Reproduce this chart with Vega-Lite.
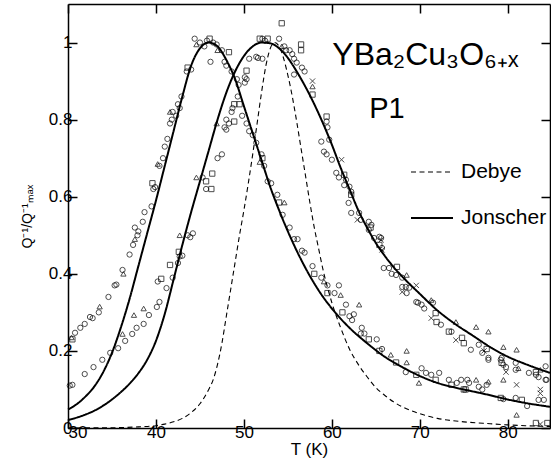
{
  "$schema": "https://vega.github.io/schema/vega-lite/v6.json",
  "autosize": {"type": "none"},
  "width": 482,
  "height": 424,
  "padding": {"left": 68, "top": 4, "right": 1, "bottom": 38},
  "background": "white",
  "config": {
    "view": {"stroke": null},
    "font": "Liberation Sans",
    "axis": {
      "domainColor": "black", "domainWidth": 1.5, "tickColor": "black", "tickWidth": 1.5,
      "tickSize": -9, "labelPadding": 5, "labelFont": "Liberation Sans", "labelFontSize": 17,
      "labelColor": "black", "titleFont": "Liberation Sans", "titleFontWeight": "normal",
      "titleColor": "black", "grid": false
    },
    "legend": {
      "orient": "none", "legendX": 342, "legendY": 146, "title": null, "symbolType": "stroke",
      "symbolSize": 1764, "symbolStrokeColor": "black", "labelFont": "Liberation Sans",
      "labelFontSize": 21, "labelColor": "black", "labelOffset": 7, "rowPadding": 14, "padding": 0
    }
  },
  "datasets": {
    "curves": [
      {"c":"A","model":"Jonscher","T":30,"Q":0.048},{"c":"A","model":"Jonscher","T":31,"Q":0.062},{"c":"A","model":"Jonscher","T":32,"Q":0.082},{"c":"A","model":"Jonscher","T":33,"Q":0.108},{"c":"A","model":"Jonscher","T":34,"Q":0.145},{"c":"A","model":"Jonscher","T":35,"Q":0.195},{"c":"A","model":"Jonscher","T":36,"Q":0.26},{"c":"A","model":"Jonscher","T":37,"Q":0.335},{"c":"A","model":"Jonscher","T":38,"Q":0.42},{"c":"A","model":"Jonscher","T":39,"Q":0.505},{"c":"A","model":"Jonscher","T":40,"Q":0.59},{"c":"A","model":"Jonscher","T":41,"Q":0.68},{"c":"A","model":"Jonscher","T":42,"Q":0.77},{"c":"A","model":"Jonscher","T":43,"Q":0.86},{"c":"A","model":"Jonscher","T":44,"Q":0.94},{"c":"A","model":"Jonscher","T":45,"Q":0.985},{"c":"A","model":"Jonscher","T":46,"Q":1.0},{"c":"A","model":"Jonscher","T":47,"Q":0.99},{"c":"A","model":"Jonscher","T":48,"Q":0.955},{"c":"A","model":"Jonscher","T":49,"Q":0.905},{"c":"A","model":"Jonscher","T":50,"Q":0.835},{"c":"A","model":"Jonscher","T":51,"Q":0.765},{"c":"A","model":"Jonscher","T":52,"Q":0.695},{"c":"A","model":"Jonscher","T":53,"Q":0.625},{"c":"A","model":"Jonscher","T":54,"Q":0.565},{"c":"A","model":"Jonscher","T":55,"Q":0.51},{"c":"A","model":"Jonscher","T":56,"Q":0.46},{"c":"A","model":"Jonscher","T":57,"Q":0.415},{"c":"A","model":"Jonscher","T":58,"Q":0.375},{"c":"A","model":"Jonscher","T":59,"Q":0.34},{"c":"A","model":"Jonscher","T":60,"Q":0.31},{"c":"A","model":"Jonscher","T":62,"Q":0.26},{"c":"A","model":"Jonscher","T":64,"Q":0.22},{"c":"A","model":"Jonscher","T":66,"Q":0.185},{"c":"A","model":"Jonscher","T":68,"Q":0.158},{"c":"A","model":"Jonscher","T":70,"Q":0.135},{"c":"A","model":"Jonscher","T":72,"Q":0.117},{"c":"A","model":"Jonscher","T":74,"Q":0.105},{"c":"A","model":"Jonscher","T":76,"Q":0.095},{"c":"A","model":"Jonscher","T":78,"Q":0.085},{"c":"A","model":"Jonscher","T":80,"Q":0.074},{"c":"A","model":"Jonscher","T":82,"Q":0.065},{"c":"A","model":"Jonscher","T":84.8,"Q":0.055},
      {"c":"B","model":"Jonscher","T":30,"Q":0.021},{"c":"B","model":"Jonscher","T":31,"Q":0.027},{"c":"B","model":"Jonscher","T":32,"Q":0.035},{"c":"B","model":"Jonscher","T":33,"Q":0.045},{"c":"B","model":"Jonscher","T":34,"Q":0.058},{"c":"B","model":"Jonscher","T":35,"Q":0.074},{"c":"B","model":"Jonscher","T":36,"Q":0.093},{"c":"B","model":"Jonscher","T":37,"Q":0.115},{"c":"B","model":"Jonscher","T":38,"Q":0.142},{"c":"B","model":"Jonscher","T":39,"Q":0.177},{"c":"B","model":"Jonscher","T":40,"Q":0.226},{"c":"B","model":"Jonscher","T":41,"Q":0.296},{"c":"B","model":"Jonscher","T":42,"Q":0.385},{"c":"B","model":"Jonscher","T":43,"Q":0.475},{"c":"B","model":"Jonscher","T":44,"Q":0.56},{"c":"B","model":"Jonscher","T":45,"Q":0.64},{"c":"B","model":"Jonscher","T":46,"Q":0.72},{"c":"B","model":"Jonscher","T":47,"Q":0.8},{"c":"B","model":"Jonscher","T":48,"Q":0.87},{"c":"B","model":"Jonscher","T":49,"Q":0.925},{"c":"B","model":"Jonscher","T":50,"Q":0.965},{"c":"B","model":"Jonscher","T":51,"Q":0.99},{"c":"B","model":"Jonscher","T":52,"Q":1.0},{"c":"B","model":"Jonscher","T":53,"Q":0.998},{"c":"B","model":"Jonscher","T":54,"Q":0.985},{"c":"B","model":"Jonscher","T":55,"Q":0.96},{"c":"B","model":"Jonscher","T":56,"Q":0.925},{"c":"B","model":"Jonscher","T":57,"Q":0.885},{"c":"B","model":"Jonscher","T":58,"Q":0.84},{"c":"B","model":"Jonscher","T":59,"Q":0.79},{"c":"B","model":"Jonscher","T":60,"Q":0.735},{"c":"B","model":"Jonscher","T":61,"Q":0.675},{"c":"B","model":"Jonscher","T":62,"Q":0.62},{"c":"B","model":"Jonscher","T":63,"Q":0.565},{"c":"B","model":"Jonscher","T":64,"Q":0.52},{"c":"B","model":"Jonscher","T":65,"Q":0.48},{"c":"B","model":"Jonscher","T":66,"Q":0.447},{"c":"B","model":"Jonscher","T":67,"Q":0.418},{"c":"B","model":"Jonscher","T":68,"Q":0.393},{"c":"B","model":"Jonscher","T":70,"Q":0.348},{"c":"B","model":"Jonscher","T":72,"Q":0.305},{"c":"B","model":"Jonscher","T":74,"Q":0.27},{"c":"B","model":"Jonscher","T":76,"Q":0.24},{"c":"B","model":"Jonscher","T":78,"Q":0.21},{"c":"B","model":"Jonscher","T":80,"Q":0.185},{"c":"B","model":"Jonscher","T":82,"Q":0.166},{"c":"B","model":"Jonscher","T":84.8,"Q":0.143},
      {"c":"D","model":"Debye","T":30,"Q":0},{"c":"D","model":"Debye","T":33,"Q":0.0005},{"c":"D","model":"Debye","T":36,"Q":0.001},{"c":"D","model":"Debye","T":38,"Q":0.003},{"c":"D","model":"Debye","T":40,"Q":0.006},{"c":"D","model":"Debye","T":41,"Q":0.01},{"c":"D","model":"Debye","T":42,"Q":0.016},{"c":"D","model":"Debye","T":43,"Q":0.025},{"c":"D","model":"Debye","T":44,"Q":0.04},{"c":"D","model":"Debye","T":45,"Q":0.063},{"c":"D","model":"Debye","T":46,"Q":0.1},{"c":"D","model":"Debye","T":46.5,"Q":0.125},{"c":"D","model":"Debye","T":47,"Q":0.165},{"c":"D","model":"Debye","T":47.5,"Q":0.22},{"c":"D","model":"Debye","T":48,"Q":0.29},{"c":"D","model":"Debye","T":48.5,"Q":0.36},{"c":"D","model":"Debye","T":49,"Q":0.43},{"c":"D","model":"Debye","T":49.5,"Q":0.5},{"c":"D","model":"Debye","T":50,"Q":0.565},{"c":"D","model":"Debye","T":50.5,"Q":0.635},{"c":"D","model":"Debye","T":51,"Q":0.71},{"c":"D","model":"Debye","T":51.5,"Q":0.79},{"c":"D","model":"Debye","T":52,"Q":0.87},{"c":"D","model":"Debye","T":52.5,"Q":0.94},{"c":"D","model":"Debye","T":53,"Q":0.985},{"c":"D","model":"Debye","T":53.5,"Q":1.0},{"c":"D","model":"Debye","T":54,"Q":0.99},{"c":"D","model":"Debye","T":54.5,"Q":0.96},{"c":"D","model":"Debye","T":55,"Q":0.915},{"c":"D","model":"Debye","T":55.5,"Q":0.86},{"c":"D","model":"Debye","T":56,"Q":0.795},{"c":"D","model":"Debye","T":56.5,"Q":0.725},{"c":"D","model":"Debye","T":57,"Q":0.655},{"c":"D","model":"Debye","T":57.5,"Q":0.585},{"c":"D","model":"Debye","T":58,"Q":0.52},{"c":"D","model":"Debye","T":58.5,"Q":0.465},{"c":"D","model":"Debye","T":59,"Q":0.41},{"c":"D","model":"Debye","T":59.5,"Q":0.365},{"c":"D","model":"Debye","T":60,"Q":0.325},{"c":"D","model":"Debye","T":61,"Q":0.26},{"c":"D","model":"Debye","T":62,"Q":0.205},{"c":"D","model":"Debye","T":63,"Q":0.165},{"c":"D","model":"Debye","T":64,"Q":0.133},{"c":"D","model":"Debye","T":65,"Q":0.105},{"c":"D","model":"Debye","T":66,"Q":0.085},{"c":"D","model":"Debye","T":67,"Q":0.068},{"c":"D","model":"Debye","T":68,"Q":0.055},{"c":"D","model":"Debye","T":70,"Q":0.037},{"c":"D","model":"Debye","T":72,"Q":0.025},{"c":"D","model":"Debye","T":75,"Q":0.016},{"c":"D","model":"Debye","T":78,"Q":0.011},{"c":"D","model":"Debye","T":80,"Q":0.008},{"c":"D","model":"Debye","T":82,"Q":0.006},{"c":"D","model":"Debye","T":84.8,"Q":0.004}
    ],
    "points": [
      {"T":30.4,"Q":0.235,"m":"t"},{"T":30.5,"Q":0.23,"m":"s"},{"T":30.8,"Q":0.247,"m":"o"},{"T":31.4,"Q":0.26,"m":"o"},{"T":31.9,"Q":0.27,"m":"o"},{"T":32.5,"Q":0.288,"m":"o"},{"T":32.8,"Q":0.285,"m":"o"},{"T":33.5,"Q":0.3,"m":"o"},{"T":33.6,"Q":0.315,"m":"t"},{"T":34.6,"Q":0.34,"m":"o"},{"T":35.3,"Q":0.37,"m":"o"},{"T":35.5,"Q":0.372,"m":"o"},{"T":36.2,"Q":0.41,"m":"o"},{"T":36.3,"Q":0.4,"m":"t"},{"T":37.0,"Q":0.45,"m":"o"},{"T":37.4,"Q":0.475,"m":"o"},{"T":37.6,"Q":0.49,"m":"t"},{"T":37.9,"Q":0.5,"m":"o"},{"T":37.6,"Q":0.52,"m":"o"},{"T":38.0,"Q":0.51,"m":"o"},{"T":38.5,"Q":0.535,"m":"o"},{"T":38.7,"Q":0.56,"m":"o"},{"T":39.5,"Q":0.575,"m":"o"},{"T":39.7,"Q":0.62,"m":"o"},{"T":39.6,"Q":0.635,"m":"s"},{"T":39.9,"Q":0.625,"m":"o"},{"T":40.4,"Q":0.68,"m":"o"},{"T":40.2,"Q":0.685,"m":"t"},{"T":40.8,"Q":0.7,"m":"o"},{"T":41.0,"Q":0.73,"m":"o"},{"T":41.3,"Q":0.75,"m":"o"},{"T":41.6,"Q":0.79,"m":"o"},{"T":41.8,"Q":0.8,"m":"o"},{"T":41.6,"Q":0.82,"m":"t"},{"T":41.9,"Q":0.82,"m":"o"},{"T":42.3,"Q":0.81,"m":"o"},{"T":42.5,"Q":0.84,"m":"o"},{"T":42.7,"Q":0.83,"m":"o"},{"T":42.9,"Q":0.86,"m":"o"},{"T":43.5,"Q":0.925,"m":"o"},{"T":43.6,"Q":0.935,"m":"s"},{"T":44.0,"Q":0.93,"m":"o"},{"T":44.4,"Q":1.01,"m":"o"},{"T":44.6,"Q":0.995,"m":"t"},{"T":45.0,"Q":1.0,"m":"o"},{"T":45.5,"Q":0.99,"m":"o"},{"T":45.8,"Q":1.005,"m":"o"},{"T":46.1,"Q":1.01,"m":"s"},{"T":46.5,"Q":1.0,"m":"o"},{"T":46.9,"Q":0.995,"m":"o"},{"T":47.0,"Q":0.98,"m":"t"},{"T":47.5,"Q":0.98,"m":"o"},{"T":48.3,"Q":0.975,"m":"s"},{"T":46.2,"Q":0.95,"m":"o"},{"T":47.8,"Q":0.95,"m":"o"},{"T":48.0,"Q":0.94,"m":"o"},{"T":48.6,"Q":0.925,"m":"o"},{"T":49.2,"Q":0.905,"m":"o"},{"T":49.4,"Q":0.89,"m":"o"},{"T":48.7,"Q":0.83,"m":"o"},{"T":49.5,"Q":0.84,"m":"s"},{"T":49.8,"Q":0.81,"m":"o"},{"T":50.3,"Q":0.79,"m":"o"},{"T":50.6,"Q":0.77,"m":"o"},{"T":51.0,"Q":0.76,"m":"o"},{"T":51.4,"Q":0.74,"m":"o"},{"T":51.8,"Q":0.69,"m":"t"},{"T":52.0,"Q":0.71,"m":"o"},{"T":52.1,"Q":0.7,"m":"s"},{"T":52.3,"Q":0.68,"m":"o"},{"T":52.7,"Q":0.64,"m":"o"},{"T":53.1,"Q":0.635,"m":"o"},{"T":53.8,"Q":0.605,"m":"o"},{"T":54.0,"Q":0.585,"m":"s"},{"T":54.6,"Q":0.585,"m":"t"},{"T":54.4,"Q":0.553,"m":"o"},{"T":55.2,"Q":0.52,"m":"o"},{"T":55.7,"Q":0.49,"m":"o"},{"T":56.1,"Q":0.49,"m":"o"},{"T":56.6,"Q":0.46,"m":"o"},{"T":56.9,"Q":0.455,"m":"o"},{"T":57.8,"Q":0.42,"m":"o"},{"T":58.0,"Q":0.4,"m":"s"},{"T":58.8,"Q":0.39,"m":"o"},{"T":59.1,"Q":0.38,"m":"t"},{"T":59.5,"Q":0.37,"m":"o"},{"T":59.5,"Q":0.35,"m":"s"},{"T":60.3,"Q":0.35,"m":"o"},{"T":60.8,"Q":0.37,"m":"o"},{"T":61.0,"Q":0.345,"m":"t"},{"T":61.6,"Q":0.32,"m":"o"},{"T":63.1,"Q":0.32,"m":"t"},{"T":61.2,"Q":0.3,"m":"s"},{"T":62.0,"Q":0.29,"m":"o"},{"T":62.3,"Q":0.28,"m":"o"},{"T":62.5,"Q":0.295,"m":"o"},{"T":63.4,"Q":0.26,"m":"o"},{"T":63.7,"Q":0.245,"m":"o"},{"T":63.3,"Q":0.245,"m":"o"},{"T":64.2,"Q":0.23,"m":"s"},{"T":65.1,"Q":0.23,"m":"o"},{"T":65.4,"Q":0.2,"m":"s"},{"T":65.7,"Q":0.205,"m":"o"},{"T":66.7,"Q":0.19,"m":"t"},{"T":67.3,"Q":0.17,"m":"s"},{"T":68.5,"Q":0.2,"m":"t"},{"T":68.5,"Q":0.17,"m":"t"},{"T":68.4,"Q":0.145,"m":"o"},{"T":69.6,"Q":0.138,"m":"s"},{"T":70.2,"Q":0.155,"m":"o"},{"T":70.7,"Q":0.143,"m":"o"},{"T":71.3,"Q":0.138,"m":"o"},{"T":71.8,"Q":0.125,"m":"s"},{"T":69.9,"Q":0.117,"m":"t"},{"T":72.2,"Q":0.143,"m":"o"},{"T":73.3,"Q":0.125,"m":"o"},{"T":73.6,"Q":0.112,"m":"s"},{"T":74.2,"Q":0.117,"m":"o"},{"T":74.7,"Q":0.125,"m":"o"},{"T":75.4,"Q":0.125,"m":"o"},{"T":75.2,"Q":0.1,"m":"s"},{"T":75.6,"Q":0.117,"m":"o"},{"T":76.4,"Q":0.125,"m":"t"},{"T":76.7,"Q":0.107,"m":"o"},{"T":77.1,"Q":0.1,"m":"o"},{"T":77.6,"Q":0.112,"m":"o"},{"T":77.8,"Q":0.12,"m":"t"},{"T":79.5,"Q":0.125,"m":"t"},{"T":81.0,"Q":0.112,"m":"x"},{"T":79.2,"Q":0.078,"m":"s"},{"T":79.5,"Q":0.075,"m":"o"},{"T":80.9,"Q":0.078,"m":"o"},{"T":81.6,"Q":0.073,"m":"s"},{"T":82.2,"Q":0.057,"m":"o"},{"T":81.0,"Q":0.034,"m":"t"},{"T":83.2,"Q":0.013,"m":"s"},{"T":83.7,"Q":0.01,"m":"x"},{"T":83.5,"Q":0.073,"m":"o"},{"T":84.1,"Q":0.073,"m":"o"},{"T":83.7,"Q":0.1,"m":"x"},{"T":84.5,"Q":0.013,"m":"s"},{"T":75.0,"Q":0.1,"m":"s"},
      {"T":30.2,"Q":0.11,"m":"o"},{"T":30.5,"Q":0.112,"m":"o"},{"T":31.9,"Q":0.14,"m":"o"},{"T":32.9,"Q":0.158,"m":"o"},{"T":33.9,"Q":0.177,"m":"o"},{"T":34.8,"Q":0.195,"m":"o"},{"T":35.7,"Q":0.207,"m":"o"},{"T":36.2,"Q":0.244,"m":"t"},{"T":36.5,"Q":0.226,"m":"o"},{"T":37.3,"Q":0.244,"m":"o"},{"T":37.8,"Q":0.26,"m":"o"},{"T":37.5,"Q":0.293,"m":"t"},{"T":38.6,"Q":0.27,"m":"o"},{"T":38.6,"Q":0.31,"m":"t"},{"T":39.2,"Q":0.293,"m":"o"},{"T":40.1,"Q":0.314,"m":"o"},{"T":40.4,"Q":0.327,"m":"o"},{"T":41.2,"Q":0.363,"m":"o"},{"T":40.2,"Q":0.38,"m":"o"},{"T":40.6,"Q":0.387,"m":"s"},{"T":41.6,"Q":0.423,"m":"s"},{"T":41.9,"Q":0.39,"m":"o"},{"T":42.5,"Q":0.428,"m":"o"},{"T":42.7,"Q":0.445,"m":"o"},{"T":42.6,"Q":0.457,"m":"s"},{"T":43.0,"Q":0.447,"m":"o"},{"T":42.7,"Q":0.5,"m":"t"},{"T":43.6,"Q":0.5,"m":"o"},{"T":43.9,"Q":0.495,"m":"o"},{"T":44.2,"Q":0.505,"m":"o"},{"T":44.6,"Q":0.65,"m":"t"},{"T":45.3,"Q":0.65,"m":"o"},{"T":45.7,"Q":0.64,"m":"s"},{"T":45.7,"Q":0.62,"m":"o"},{"T":46.3,"Q":0.62,"m":"s"},{"T":46.4,"Q":0.66,"m":"s"},{"T":47.0,"Q":0.7,"m":"o"},{"T":47.5,"Q":0.71,"m":"o"},{"T":46.9,"Q":0.79,"m":"t"},{"T":48.0,"Q":0.8,"m":"o"},{"T":48.3,"Q":0.79,"m":"o"},{"T":48.9,"Q":0.795,"m":"s"},{"T":47.8,"Q":0.78,"m":"o"},{"T":48.0,"Q":0.774,"m":"o"},{"T":48.6,"Q":0.82,"m":"o"},{"T":48.9,"Q":0.84,"m":"s"},{"T":49.3,"Q":0.86,"m":"o"},{"T":50.3,"Q":0.927,"m":"s"},{"T":50.3,"Q":0.905,"m":"o"},{"T":50.1,"Q":0.896,"m":"o"},{"T":50.1,"Q":0.91,"m":"o"},{"T":50.6,"Q":0.958,"m":"o"},{"T":51.4,"Q":0.963,"m":"o"},{"T":51.6,"Q":0.96,"m":"o"},{"T":52.1,"Q":0.958,"m":"o"},{"T":51.8,"Q":1.01,"m":"s"},{"T":52.1,"Q":1.01,"m":"o"},{"T":52.7,"Q":1.01,"m":"s"},{"T":52.4,"Q":1.005,"m":"o"},{"T":54.3,"Q":1.05,"m":"s"},{"T":54.0,"Q":1.01,"m":"o"},{"T":54.3,"Q":0.99,"m":"t"},{"T":54.6,"Q":0.99,"m":"o"},{"T":54.8,"Q":0.98,"m":"o"},{"T":55.2,"Q":0.98,"m":"o"},{"T":56.5,"Q":0.995,"m":"s"},{"T":56.5,"Q":0.98,"m":"s"},{"T":55.5,"Q":0.97,"m":"o"},{"T":56.0,"Q":0.948,"m":"o"},{"T":55.7,"Q":0.958,"m":"o"},{"T":56.6,"Q":0.935,"m":"o"},{"T":56.9,"Q":0.925,"m":"o"},{"T":55.7,"Q":0.917,"m":"o"},{"T":57.8,"Q":0.9,"m":"x"},{"T":57.8,"Q":0.886,"m":"t"},{"T":57.8,"Q":0.865,"m":"s"},{"T":59.4,"Q":0.808,"m":"s"},{"T":59.4,"Q":0.795,"m":"o"},{"T":59.5,"Q":0.78,"m":"o"},{"T":58.8,"Q":0.743,"m":"o"},{"T":59.1,"Q":0.717,"m":"o"},{"T":59.4,"Q":0.71,"m":"o"},{"T":59.7,"Q":0.748,"m":"o"},{"T":60.0,"Q":0.696,"m":"o"},{"T":61.1,"Q":0.696,"m":"x"},{"T":60.5,"Q":0.662,"m":"o"},{"T":60.8,"Q":0.65,"m":"o"},{"T":61.4,"Q":0.63,"m":"o"},{"T":61.6,"Q":0.644,"m":"o"},{"T":61.4,"Q":0.657,"m":"s"},{"T":62.0,"Q":0.626,"m":"o"},{"T":62.2,"Q":0.613,"m":"o"},{"T":62.2,"Q":0.605,"m":"s"},{"T":61.9,"Q":0.584,"m":"o"},{"T":62.2,"Q":0.558,"m":"o"},{"T":63.1,"Q":0.558,"m":"o"},{"T":62.9,"Q":0.54,"m":"x"},{"T":63.3,"Q":0.54,"m":"o"},{"T":64.2,"Q":0.535,"m":"o"},{"T":64.2,"Q":0.514,"m":"o"},{"T":64.4,"Q":0.52,"m":"s"},{"T":64.5,"Q":0.527,"m":"o"},{"T":64.8,"Q":0.493,"m":"o"},{"T":65.4,"Q":0.496,"m":"o"},{"T":65.6,"Q":0.488,"m":"x"},{"T":65.7,"Q":0.467,"m":"o"},{"T":65.6,"Q":0.493,"m":"o"},{"T":65.4,"Q":0.475,"m":"s"},{"T":65.7,"Q":0.462,"m":"x"},{"T":65.9,"Q":0.415,"m":"o"},{"T":66.5,"Q":0.415,"m":"o"},{"T":67.4,"Q":0.418,"m":"s"},{"T":66.8,"Q":0.4,"m":"o"},{"T":67.3,"Q":0.397,"m":"o"},{"T":68.5,"Q":0.397,"m":"t"},{"T":68.0,"Q":0.39,"m":"o"},{"T":68.0,"Q":0.366,"m":"o"},{"T":68.4,"Q":0.366,"m":"o"},{"T":68.8,"Q":0.364,"m":"o"},{"T":69.6,"Q":0.37,"m":"x"},{"T":68.0,"Q":0.353,"m":"x"},{"T":68.5,"Q":0.35,"m":"o"},{"T":69.6,"Q":0.327,"m":"o"},{"T":69.8,"Q":0.325,"m":"o"},{"T":70.2,"Q":0.32,"m":"o"},{"T":70.5,"Q":0.31,"m":"o"},{"T":71.3,"Q":0.332,"m":"t"},{"T":71.5,"Q":0.325,"m":"o"},{"T":71.3,"Q":0.285,"m":"x"},{"T":71.8,"Q":0.298,"m":"s"},{"T":71.9,"Q":0.275,"m":"s"},{"T":72.4,"Q":0.268,"m":"o"},{"T":74.1,"Q":0.275,"m":"t"},{"T":73.6,"Q":0.25,"m":"o"},{"T":74.1,"Q":0.228,"m":"x"},{"T":74.8,"Q":0.234,"m":"s"},{"T":75.0,"Q":0.22,"m":"s"},{"T":75.8,"Q":0.203,"m":"o"},{"T":76.4,"Q":0.262,"m":"t"},{"T":77.8,"Q":0.25,"m":"t"},{"T":76.7,"Q":0.216,"m":"o"},{"T":77.3,"Q":0.2,"m":"x"},{"T":77.6,"Q":0.205,"m":"s"},{"T":77.8,"Q":0.177,"m":"o"},{"T":79.5,"Q":0.21,"m":"t"},{"T":81.0,"Q":0.203,"m":"t"},{"T":79.2,"Q":0.177,"m":"o"},{"T":79.5,"Q":0.164,"m":"o"},{"T":80.9,"Q":0.169,"m":"o"},{"T":80.9,"Q":0.151,"m":"o"},{"T":81.2,"Q":0.155,"m":"t"},{"T":79.8,"Q":0.145,"m":"x"},{"T":82.4,"Q":0.143,"m":"o"},{"T":83.2,"Q":0.145,"m":"s"},{"T":83.7,"Q":0.151,"m":"t"},{"T":83.5,"Q":0.132,"m":"o"},{"T":84.3,"Q":0.125,"m":"o"},{"T":73.3,"Q":0.25,"m":"s"},{"T":77.1,"Q":0.195,"m":"o"},{"T":77.8,"Q":0.182,"m":"o"},{"T":79.3,"Q":0.182,"m":"o"},{"T":79.3,"Q":0.169,"m":"s"},{"T":79.8,"Q":0.158,"m":"o"},{"T":83.2,"Q":0.138,"m":"o"},{"T":84.4,"Q":0.125,"m":"o"},{"T":83.7,"Q":0.09,"m":"x"},{"T":84.3,"Q":0.16,"m":"o"}
    ],
    "notes": [
      {"label": "YBa₂Cu₃O₆₊ₓ", "kind": "formula", "T": 60.05, "Q": 0.943},
      {"label": "P1", "kind": "sample", "T": 64.24, "Q": 0.805}
    ]
  },
  "resolve": {"axis": {"x": "independent", "y": "independent"}},
  "layer": [
    {
      "data": {"name": "curves"},
      "mark": {"type": "line", "color": "black", "interpolate": "monotone"},
      "encoding": {
        "x": {"field": "T", "type": "quantitative", "scale": {"domain": [30, 84.8], "nice": false, "zero": false},
              "axis": {"orient": "bottom", "values": [30, 40, 50, 60, 70, 80], "title": "T  (K)", "titleFontSize": 17, "titlePadding": 1}},
        "y": {"field": "Q", "type": "quantitative", "scale": {"domain": [0, 1.1], "nice": false},
              "axis": {"orient": "left", "values": [0, 0.2, 0.4, 0.6, 0.8, 1], "format": "~g", "title": "Q⁻¹/Q⁻¹ₘₐₓ", "titleFontSize": 14, "titlePadding": 14}},
        "detail": {"field": "c"},
        "strokeDash": {"field": "model", "type": "nominal", "scale": {"domain": ["Debye", "Jonscher"], "range": [[5, 3.5], [1, 0]]}},
        "strokeWidth": {"field": "model", "type": "nominal", "scale": {"domain": ["Debye", "Jonscher"], "range": [1.1, 2]}}
      }
    },
    {
      "data": {"name": "points"},
      "mark": {"type": "point", "filled": false, "color": "black", "strokeWidth": 1, "size": 28},
      "encoding": {
        "x": {"field": "T", "type": "quantitative", "axis": null},
        "y": {"field": "Q", "type": "quantitative", "axis": null},
        "shape": {"field": "m", "type": "nominal", "legend": null,
                  "scale": {"domain": ["o", "s", "t", "x"], "range": ["circle", "square", "triangle-up", "M-1,-1L1,1M-1,1L1,-1"]}}
      }
    },
    {
      "data": {"name": "notes"},
      "transform": [{"filter": "datum.kind == 'formula'"}],
      "mark": {"type": "text", "align": "left", "baseline": "alphabetic", "fontSize": 32, "font": "Liberation Sans", "color": "black"},
      "encoding": {
        "x": {"field": "T", "type": "quantitative",
              "axis": {"orient": "top", "values": [30, 40, 50, 60, 70, 80], "labels": false, "title": null}},
        "y": {"field": "Q", "type": "quantitative",
              "axis": {"orient": "right", "values": [0, 0.2, 0.4, 0.6, 0.8, 1], "labels": false, "title": null}},
        "text": {"field": "label"}
      }
    },
    {
      "data": {"name": "notes"},
      "transform": [{"filter": "datum.kind == 'sample'"}],
      "mark": {"type": "text", "align": "left", "baseline": "alphabetic", "fontSize": 29, "font": "Liberation Sans", "color": "black"},
      "encoding": {
        "x": {"field": "T", "type": "quantitative", "axis": null},
        "y": {"field": "Q", "type": "quantitative", "axis": null},
        "text": {"field": "label"}
      }
    }
  ]
}
